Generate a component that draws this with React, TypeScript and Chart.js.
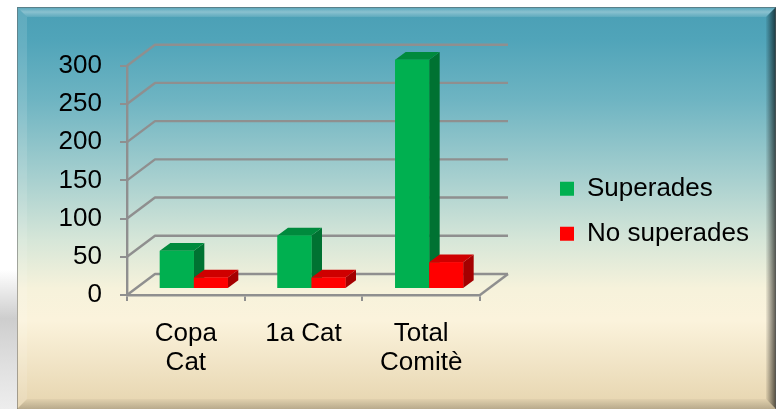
import React, { useEffect, useRef } from "react";
import { Chart, registerables } from "chart.js";

Chart.register(...registerables);

// ---- data ----
const categories: (string | string[])[] = [["Copa", "Cat"], "1a Cat", ["Total", "Comitè"]];
const seriesLabels = ["Superades", "No superades"];
const superades = [50, 70, 300];
const noSuperades = [15, 15, 35];
const yMin = 0;
const yMax = 300;
const yStep = 50;

// ---- styles ----
const FONT = "'Liberation Sans', Arial, sans-serif";
const GRID = "#8f8f8f";
const FRONT = ["#00b050", "#ff0000"];
const TOPC = ["#008a3d", "#cf0000"];
const SIDE = ["#007232", "#a40000"];
const WALL_DX = 28;
const WALL_DY = 21;
const BAR_SHIFT_X = 8;
const BAR_SHIFT_Y = 6;
const BAR_DX = 10.5;
const BAR_DY = 7.8;

const backgroundPlugin = {
  id: "frameBackground",
  beforeDraw(chart: any) {
    const { ctx, width, height } = chart;
    ctx.save();
    ctx.fillStyle = "#ffffff";
    ctx.fillRect(0, 0, width, height);
    // soft shadow on the left
    const sh = ctx.createLinearGradient(0, 270, 0, height);
    sh.addColorStop(0, "rgba(200,200,200,0)");
    sh.addColorStop(0.35, "rgba(200,200,200,0.9)");
    sh.addColorStop(1, "rgba(225,225,225,0.6)");
    ctx.fillStyle = sh;
    ctx.fillRect(0, 270, 17, height - 270);

    const L = 17, T = 7, R = width, B = height;
    const g = ctx.createLinearGradient(0, T, 0, B);
    g.addColorStop(0, "#4a9fb5");
    g.addColorStop(0.08, "#50a4b9");
    g.addColorStop(0.23, "#6eb4c2");
    g.addColorStop(0.43, "#a8d0cf");
    g.addColorStop(0.58, "#d6e6d8");
    g.addColorStop(0.7, "#f6f2db");
    g.addColorStop(0.78, "#fbf3dc");
    g.addColorStop(1, "#e6d4ae");
    ctx.fillStyle = g;
    ctx.fillRect(L, T, R - L, B - T);

    const bw = 10;
    const poly = (pts: number[][], fill: any) => {
      ctx.beginPath();
      ctx.moveTo(pts[0][0], pts[0][1]);
      for (let i = 1; i < pts.length; i++) ctx.lineTo(pts[i][0], pts[i][1]);
      ctx.closePath();
      ctx.fillStyle = fill;
      ctx.fill();
    };
    const tg = ctx.createLinearGradient(0, T, 0, T + bw);
    tg.addColorStop(0, "rgba(255,255,255,0.05)");
    tg.addColorStop(0.5, "rgba(255,255,255,0.35)");
    tg.addColorStop(1, "rgba(255,255,255,0.1)");
    poly([[L, T], [R, T], [R - bw, T + bw], [L + bw, T + bw]], tg);
    poly([[L, T], [L + bw, T + bw], [L + bw, B - bw], [L, B]], "rgba(255,255,255,0.12)");
    const rg = ctx.createLinearGradient(R - bw, 0, R, 0);
    rg.addColorStop(0, "rgba(0,0,0,0.05)");
    rg.addColorStop(1, "rgba(0,0,0,0.65)");
    poly([[R, T], [R, B], [R - bw, B - bw], [R - bw, T + bw]], rg);
    const bg = ctx.createLinearGradient(0, B - bw, 0, B);
    bg.addColorStop(0, "rgba(0,0,0,0.03)");
    bg.addColorStop(1, "rgba(0,0,0,0.2)");
    poly([[L, B], [R, B], [R - bw, B - bw], [L + bw, B - bw]], bg);
    ctx.strokeStyle = "rgba(90,90,90,0.5)";
    ctx.lineWidth = 1;
    ctx.strokeRect(L + 0.5, T + 0.5, R - L - 1, B - T);
    ctx.restore();
  },
};

const wallPlugin = {
  id: "wall3d",
  beforeDatasetsDraw(chart: any) {
    const { ctx, chartArea: a, scales } = chart;
    const y = scales.y;
    ctx.save();
    ctx.strokeStyle = GRID;
    ctx.lineWidth = 2.4;
    ctx.lineJoin = "round";
    y.ticks.forEach((t: any) => {
      const py = y.getPixelForValue(t.value);
      ctx.beginPath();
      ctx.moveTo(a.left, py);
      ctx.lineTo(a.left + WALL_DX, py - WALL_DY);
      ctx.lineTo(a.right + WALL_DX, py - WALL_DY);
      ctx.stroke();
    });
    ctx.beginPath();
    ctx.moveTo(a.right, a.bottom);
    ctx.lineTo(a.right + WALL_DX, a.bottom - WALL_DY);
    ctx.stroke();
    ctx.restore();
    // bars sit a little behind the front plane
    ctx.save();
    ctx.translate(BAR_SHIFT_X, -BAR_SHIFT_Y);
  },
  afterDatasetsDraw(chart: any) {
    const { ctx } = chart;
    chart.data.datasets.forEach((ds: any, di: number) => {
      const meta = chart.getDatasetMeta(di);
      meta.data.forEach((el: any) => {
        const { x, y, base, width } = el.getProps(["x", "y", "base", "width"], true);
        const l = x - width / 2;
        const r = x + width / 2;
        const t = Math.min(y, base);
        const b = Math.max(y, base);
        ctx.fillStyle = SIDE[di];
        ctx.beginPath();
        ctx.moveTo(r, t);
        ctx.lineTo(r + BAR_DX, t - BAR_DY);
        ctx.lineTo(r + BAR_DX, b - BAR_DY);
        ctx.lineTo(r, b);
        ctx.closePath();
        ctx.fill();
        ctx.fillStyle = TOPC[di];
        ctx.beginPath();
        ctx.moveTo(l, t);
        ctx.lineTo(l + BAR_DX, t - BAR_DY);
        ctx.lineTo(r + BAR_DX, t - BAR_DY);
        ctx.lineTo(r, t);
        ctx.closePath();
        ctx.fill();
        ctx.fillStyle = FRONT[di];
        ctx.fillRect(l, t, r - l, b - t);
      });
    });
    ctx.restore();
  },
};

export default function App() {
  const ref = useRef<HTMLCanvasElement | null>(null);
  useEffect(() => {
    if (!ref.current) return;
    const chart = new Chart(ref.current, {
      type: "bar",
      data: {
        labels: categories,
        datasets: [
          { label: seriesLabels[0], data: superades, backgroundColor: FRONT[0], borderWidth: 0, categoryPercentage: 0.578, barPercentage: 1, clip: false } as any,
          { label: seriesLabels[1], data: noSuperades, backgroundColor: FRONT[1], borderWidth: 0, categoryPercentage: 0.578, barPercentage: 1, clip: false } as any,
        ],
      },
      options: {
        animation: false,
        responsive: true,
        maintainAspectRatio: false,
        layout: { padding: { left: 0, top: 38.7, right: 25, bottom: 25 } },
        plugins: {
          legend: {
            position: "right",
            align: "center",
            maxWidth: 210,
            labels: {
              boxWidth: 14,
              boxHeight: 14,
              padding: 19,
              color: "#000",
              font: { family: FONT, size: 26 },
            },
          },
          tooltip: { enabled: false },
        },
        scales: {
          x: {
            offset: true,
            grid: { offset: true, drawOnChartArea: false, drawTicks: true, tickLength: 6, color: GRID, lineWidth: 2 },
            border: { display: true, color: GRID, width: 2.4 },
            ticks: { color: "#000", font: { family: FONT, size: 26, lineHeight: 1.13 }, padding: 18, maxRotation: 0, autoSkip: false },
            afterFit: (s: any) => { s.height = 89; },
          },
          xTop: {
            type: "linear",
            axis: "x",
            position: "top",
            display: true,
            grid: { display: false },
            border: { display: false },
            ticks: { display: false },
            afterFit: (s: any) => { s.height = 27; },
          },
          y: {
            min: yMin,
            max: yMax,
            ticks: { stepSize: yStep, color: "#000", font: { family: FONT, size: 26 }, padding: 18 },
            grid: { drawOnChartArea: false, drawTicks: true, tickLength: 7, color: GRID, lineWidth: 2 },
            border: { display: true, color: GRID, width: 2.4 },
            afterFit: (s: any) => { s.width = 127; },
          },
          y2: {
            type: "linear",
            axis: "y",
            position: "right",
            display: true,
            grid: { display: false },
            border: { display: false },
            ticks: { display: false },
            afterFit: (s: any) => { s.width = 61; },
          },
        },
      } as any,
      plugins: [backgroundPlugin, wallPlugin],
    });
    return () => chart.destroy();
  }, []);
  return (
    <div style={{ position: "absolute", left: 0, top: 0, width: 776, height: 409 }}>
      <canvas ref={ref} />
    </div>
  );
}
